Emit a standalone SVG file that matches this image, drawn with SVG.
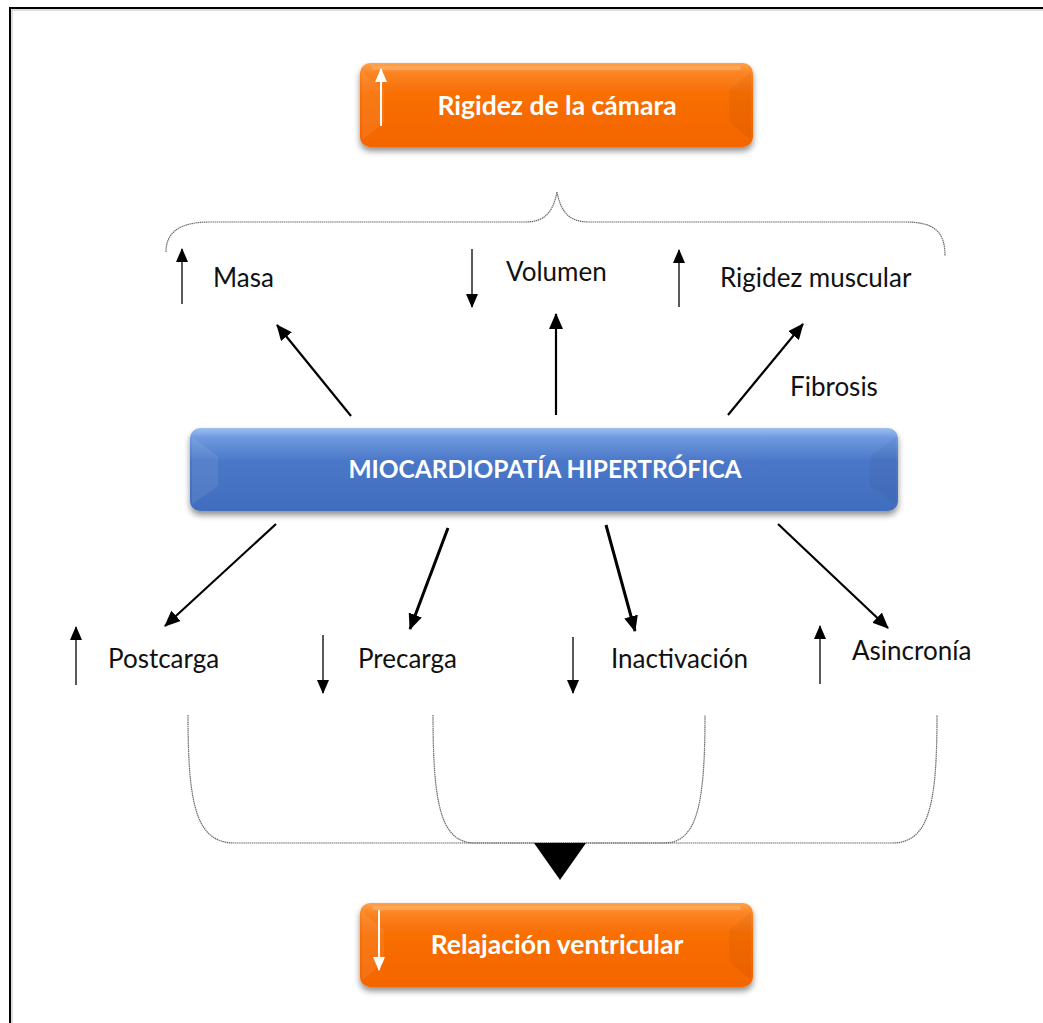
<svg xmlns="http://www.w3.org/2000/svg" width="1043" height="1023" viewBox="0 0 1043 1023">
  <defs>
    <style>
      .lbl { font-family: Lato, "Liberation Sans", sans-serif; font-size: 26px; fill: #111; }
      .box-txt { font-family: Lato, "Liberation Sans", sans-serif; font-weight: bold; font-size: 26.5px; fill: #fff; text-anchor: middle; }
      .box-txt.caps { font-size: 24.5px; }
      .arr { stroke: #000; stroke-width: 2.2; fill: none; marker-end: url(#head); }
      .arr-bold { stroke: #000; stroke-width: 3; fill: none; marker-end: url(#head); }
      .thin { stroke: #000; stroke-width: 1.3; fill: none; marker-end: url(#small); }
      .wht { stroke: #fff; stroke-width: 2; fill: none; marker-end: url(#whead); }
      .brace { stroke: #6a6a6a; stroke-width: 1.2; fill: none; stroke-dasharray: 1.5 0.6; }
      .bevel-dark { fill: #000; opacity: 0.04; }
      .bevel-light { fill: #fff; opacity: 0.08; }
    </style>
    <marker id="head" markerUnits="userSpaceOnUse" markerWidth="16" markerHeight="14" viewBox="0 0 16 14" refX="15" refY="7" orient="auto">
      <path d="M0,0 L16,7 L0,14 z" fill="#000"/>
    </marker>
    <marker id="small" markerUnits="userSpaceOnUse" markerWidth="14" markerHeight="12" viewBox="0 0 14 12" refX="13" refY="6" orient="auto">
      <path d="M0,0 L14,6 L0,12 z" fill="#000"/>
    </marker>
    <marker id="whead" markerUnits="userSpaceOnUse" markerWidth="14" markerHeight="12" viewBox="0 0 14 12" refX="13" refY="6" orient="auto">
      <path d="M0,0 L14,6 L0,12 z" fill="#fff"/>
    </marker>
    <linearGradient id="orange" x1="0" y1="0" x2="0" y2="1">
      <stop offset="0" stop-color="#FFA24A"/>
      <stop offset="0.12" stop-color="#FB8424"/>
      <stop offset="0.35" stop-color="#F96F05"/>
      <stop offset="1" stop-color="#F46500"/>
    </linearGradient>
    <linearGradient id="blue" x1="0" y1="0" x2="0" y2="1">
      <stop offset="0" stop-color="#9EC0F0"/>
      <stop offset="0.12" stop-color="#6E99DE"/>
      <stop offset="0.4" stop-color="#4A77C8"/>
      <stop offset="1" stop-color="#416DBE"/>
    </linearGradient>
    <filter id="shadow" x="-5%" y="-20%" width="110%" height="150%">
      <feGaussianBlur in="SourceAlpha" stdDeviation="3"/>
      <feOffset dx="0" dy="4" result="b"/>
      <feComponentTransfer><feFuncA type="linear" slope="0.45"/></feComponentTransfer>
      <feMerge><feMergeNode/><feMergeNode in="SourceGraphic"/></feMerge>
    </filter>
  </defs>

  <rect width="1043" height="1023" fill="#fff"/>
  <!-- page frame -->
  <path d="M10,1023 V8 H1043" fill="none" stroke="#000" stroke-width="2"/>
  <path d="M12,1023 V10 H1043" fill="none" stroke="#bbb" stroke-width="1"/>

  <!-- top node -->
  <g id="rigidez-camara">
    <rect x="360" y="63" width="393" height="84" rx="10" fill="url(#orange)" filter="url(#shadow)"/>
    <path class="bevel-light" d="M362,72 L384,90 V122 L362,140 z"/>
    <path class="bevel-dark" d="M751,72 L729,90 V122 L751,140 z"/>
    <path d="M372,66 H741 L740,70 H373 z" fill="#FFB878" opacity="0.5"/>
    <line x1="381" y1="126" x2="381" y2="69" class="wht"/>
    <text x="557" y="115" class="box-txt">Rigidez de la cámara</text>
  </g>

  <!-- central node -->
  <g id="miocardiopatia">
    <rect x="190" y="428" width="708" height="83" rx="10" fill="url(#blue)" filter="url(#shadow)"/>
    <path class="bevel-light" d="M192,437 L218,456 V486 L192,504 z"/>
    <path class="bevel-dark" d="M896,437 L870,456 V486 L896,504 z"/>
    <text x="545" y="478" class="box-txt caps">MIOCARDIOPATÍA HIPERTRÓFICA</text>
  </g>

  <!-- bottom node -->
  <g id="relajacion">
    <rect x="360" y="903" width="393" height="84" rx="10" fill="url(#orange)" filter="url(#shadow)"/>
    <path class="bevel-light" d="M362,912 L384,930 V962 L362,980 z"/>
    <path class="bevel-dark" d="M751,912 L729,930 V962 L751,980 z"/>
    <path d="M372,906 H741 L740,910 H373 z" fill="#FFB878" opacity="0.5"/>
    <line x1="379" y1="910" x2="379" y2="970" class="wht"/>
    <text x="557" y="954" class="box-txt">Relajación ventricular</text>
  </g>

  <!-- upper factors -->
  <g id="masa">
    <line x1="182" y1="304" x2="182" y2="249" class="thin"/>
    <text x="213" y="287" class="lbl">Masa</text>
  </g>
  <g id="volumen">
    <line x1="472" y1="249" x2="472" y2="307" class="thin"/>
    <text x="506" y="281" class="lbl">Volumen</text>
  </g>
  <g id="rigidez-muscular">
    <line x1="679" y1="307" x2="679" y2="250" class="thin"/>
    <text x="720" y="287" class="lbl">Rigidez muscular</text>
  </g>
  <g id="fibrosis">
    <text x="790" y="396" class="lbl">Fibrosis</text>
  </g>

  <!-- lower factors -->
  <g id="postcarga">
    <line x1="76" y1="685" x2="76" y2="627" class="thin"/>
    <text x="108" y="668" class="lbl">Postcarga</text>
  </g>
  <g id="precarga">
    <line x1="323" y1="635" x2="323" y2="693" class="thin"/>
    <text x="358" y="668" class="lbl">Precarga</text>
  </g>
  <g id="inactivacion">
    <line x1="573" y1="637" x2="573" y2="693" class="thin"/>
    <text x="611" y="668" class="lbl">Inactivación</text>
  </g>
  <g id="asincronia">
    <line x1="820" y1="684" x2="820" y2="626" class="thin"/>
    <text x="852" y="660" class="lbl">Asincronía</text>
  </g>

  <!-- connectors -->
  <g id="connectors">
    <line x1="351" y1="416" x2="277" y2="325" class="arr"/>
    <line x1="556" y1="415" x2="556" y2="314" class="arr"/>
    <line x1="728" y1="415" x2="803" y2="324" class="arr"/>

    <line x1="276" y1="524" x2="165" y2="626" class="arr"/>
    <line x1="448" y1="528" x2="410" y2="629" class="arr-bold"/>
    <line x1="606" y1="525" x2="635" y2="631" class="arr-bold"/>
    <line x1="778" y1="524" x2="888" y2="628" class="arr"/>

    <!-- brace over the upper factors -->
    <path class="brace" d="M166,252 C166,232 180,222 210,222 H525 C545,222 553,212 557,192 C561,212 569,222 589,222 H905 C935,222 945,232 945,256"/>

    <!-- brackets gathering the lower factors -->
    <path class="brace" d="M188,715 C188,805 196,843 235,843 H664 C697,843 705,805 705,715"/>
    <path class="brace" d="M433,715 C433,805 441,843 475,843 H892 C929,843 937,805 937,715"/>
    <path d="M534,843 H586 L560,880 z" fill="#000"/>
  </g>
</svg>
